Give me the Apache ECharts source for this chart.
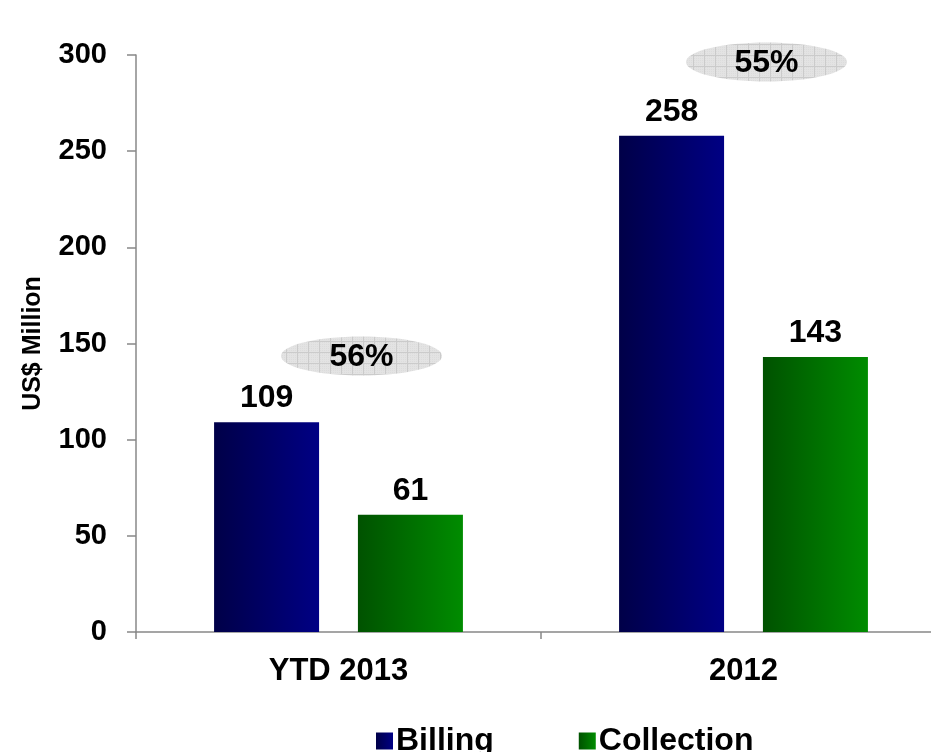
<!DOCTYPE html>
<html>
<head>
<meta charset="utf-8">
<script src="https://cdn.jsdelivr.net/npm/echarts@6/dist/echarts.min.js"></script>
<style>
  html, body { margin: 0; padding: 0; background: #fff; overflow: hidden; }
  #chart { width: 946px; height: 752px; }
</style>
</head>
<body>
<div id="chart"></div>
<script>
// Billing vs collection, US$ million
const categories = ['YTD 2013', '2012'];
const billing = [109, 258];
const collection = [61, 143];
const ratioLabels = ['56%', '55%'];
const yTicks = { min: 0, max: 300, step: 50 };

// Vertical placement (axis units) for the ratio bubbles
const bubbleHeights = [143.5, 296.4];

const FONT = '"Liberation Sans", Arial, sans-serif';

// light gray grid-paper fill for the ratio bubbles
function gridPattern() {
  const c = document.createElement('canvas');
  c.width = 11; c.height = 11;
  const g = c.getContext('2d');
  g.fillStyle = '#e3e3e3';
  g.fillRect(0, 0, 11, 11);
  g.fillStyle = '#dcdcdc';
  for (let i = 1; i < 11; i += 2) for (let j = 1; j < 11; j += 2) g.fillRect(i, j, 1, 1);
  g.fillStyle = '#cbcbcb';
  g.fillRect(0, 0, 11, 1);
  g.fillRect(0, 0, 1, 11);
  return c;
}
const bubbleFill = { image: gridPattern(), repeat: 'repeat' };

function hGrad(a, b) {
  return new echarts.graphic.LinearGradient(0, 0, 1, 0, [
    { offset: 0, color: a }, { offset: 1, color: b }
  ]);
}

const valueLabel = {
  show: true,
  position: 'top',
  distance: 8,
  color: '#000',
  fontFamily: FONT,
  fontWeight: 'bold',
  fontSize: 32
};

const chart = echarts.init(document.getElementById('chart'));
chart.setOption({
  animation: false,
  backgroundColor: '#fff',
  grid: { left: 136, right: 0, top: 55, bottom: 120 },
  legend: {
    data: ['Billing', 'Collection'],
    left: 371,
    top: 720,
    icon: 'rect',
    itemWidth: 17,
    itemHeight: 17,
    itemGap: 85,
    textStyle: { color: '#000', fontFamily: FONT, fontWeight: 'bold', fontSize: 32, padding: [0, 0, 0, -2] }
  },
  xAxis: {
    type: 'category',
    data: categories,
    axisLine: { lineStyle: { color: '#888', width: 1.5 } },
    axisTick: { show: true, length: 7, lineStyle: { color: '#888', width: 1.5 } },
    axisLabel: { color: '#000', fontFamily: FONT, fontWeight: 'bold', fontSize: 31, margin: 24 }
  },
  yAxis: {
    type: 'value',
    min: yTicks.min,
    max: yTicks.max,
    interval: yTicks.step,
    name: 'US$ Million',
    nameLocation: 'middle',
    nameGap: 90,
    nameRotate: 90,
    nameTextStyle: { color: '#000', fontFamily: FONT, fontWeight: 'bold', fontSize: 25 },
    splitLine: { show: false },
    axisLine: { show: true, lineStyle: { color: '#888', width: 1.5 } },
    axisTick: { show: true, length: 9, lineStyle: { color: '#888', width: 1.5 } },
    axisLabel: { color: '#000', fontFamily: FONT, fontWeight: 'bold', fontSize: 29, margin: 29 }
  },
  series: [
    {
      name: 'Billing',
      type: 'bar',
      data: billing,
      barWidth: 105,
      barGap: '37%',
      itemStyle: { color: hGrad('#000048', '#000084') },
      label: valueLabel
    },
    {
      name: 'Collection',
      type: 'bar',
      data: collection,
      barWidth: 105,
      itemStyle: { color: hGrad('#005200', '#008c00') },
      label: valueLabel
    },
    {
      name: 'Ratio',
      type: 'custom',
      data: categories.map((c, i) => [i, bubbleHeights[i]]),
      encode: { x: 0, y: 1 },
      silent: true,
      z: 1,
      renderItem: function (params, api) {
        const p = api.coord([api.value(0), api.value(1)]);
        const cx = p[0] + 23, cy = p[1];
        return {
          type: 'group',
          children: [
            {
              type: 'ellipse',
              shape: { cx: cx, cy: cy, rx: 80.5, ry: 19.5 },
              style: { fill: bubbleFill }
            },
            {
              type: 'text',
              x: cx,
              y: cy + 1,
              style: {
                text: ratioLabels[params.dataIndex],
                fill: '#000',
                font: 'bold 32px ' + FONT,
                align: 'center',
                verticalAlign: 'middle'
              }
            }
          ]
        };
      }
    }
  ]
});
</script>
</body>
</html>
